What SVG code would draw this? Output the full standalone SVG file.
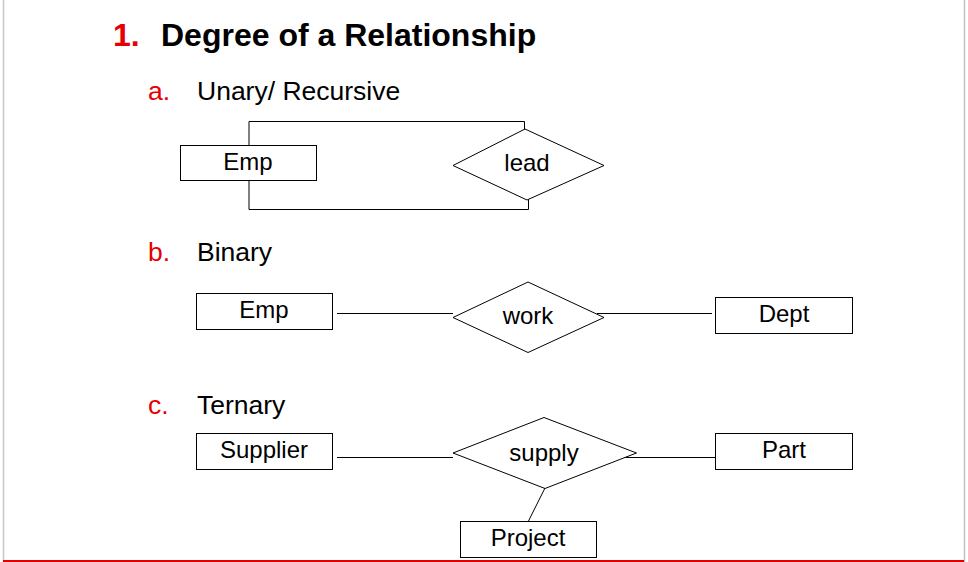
<svg xmlns="http://www.w3.org/2000/svg" width="968" height="562" viewBox="0 0 968 562">
<style>
.ent{fill:#fff;stroke:#000;stroke-width:1}
.rel{fill:#fff;stroke:#000;stroke-width:1}
.ln{fill:none;stroke:#000;stroke-width:1}
.lbl{font-family:"Liberation Sans",Arial,sans-serif;font-size:24px;fill:#000;text-anchor:middle}
.h{font-family:"Liberation Sans",Arial,sans-serif;fill:#000}
.red{fill:#e60000}
</style>
<rect x="0" y="0" width="968" height="562" fill="#fff"/>
<line x1="3.5" y1="0" x2="3.5" y2="562" stroke="#c8c8c8" stroke-width="1.5"/>
<line x1="964.5" y1="0" x2="964.5" y2="562" stroke="#c0c0c0" stroke-width="1.5"/>
<line x1="3" y1="561" x2="964" y2="561" stroke="#e00000" stroke-width="2"/>

<g id="title">
<text x="113" y="46" class="h red" font-size="32" font-weight="bold">1.</text>
<text x="161" y="46" class="h" font-size="32" font-weight="bold">Degree of a Relationship</text>
</g>
<g id="heading-a">
<text x="148" y="100" class="h red" font-size="26.5">a.</text>
<text x="197" y="100" class="h" font-size="26.5">Unary/ Recursive</text>
</g>
<g id="heading-b">
<text x="148" y="261" class="h red" font-size="26.5">b.</text>
<text x="197" y="261" class="h" font-size="26.5">Binary</text>
</g>
<g id="heading-c">
<text x="148" y="414" class="h red" font-size="26.5">c.</text>
<text x="197" y="414" class="h" font-size="26.5">Ternary</text>
</g>

<g id="connectors">
<polyline class="ln" points="249,145 249,121.5 524.5,121.5 524.5,138"/>
<polyline class="ln" points="249,181 249,209.5 528.5,209.5 528.5,198"/>
<line class="ln" x1="337" y1="313.5" x2="453" y2="313.5"/>
<line class="ln" x1="597" y1="313.5" x2="712" y2="313.5"/>
<line class="ln" x1="337" y1="457.5" x2="453" y2="457.5"/>
<line class="ln" x1="605" y1="457.5" x2="720" y2="457.5"/>
<line class="ln" x1="545" y1="488" x2="528.5" y2="521"/>
</g>

<g id="unary-emp">
<rect class="ent" x="180.5" y="145.5" width="136" height="35"/>
<text class="lbl" x="248" y="170">Emp</text>
</g>
<g id="unary-lead">
<polygon class="rel" points="453,165.5 525,129 604,165.5 527,200"/>
<text class="lbl" x="527" y="171">lead</text>
</g>

<g id="binary-emp">
<rect class="ent" x="196.5" y="293.5" width="136" height="36"/>
<text class="lbl" x="264" y="318">Emp</text>
</g>
<g id="binary-work">
<polygon class="rel" points="453,317.5 528,282 604,317.5 528,352.5"/>
<text class="lbl" x="528" y="324">work</text>
</g>
<g id="binary-dept">
<rect class="ent" x="715.5" y="297.5" width="137" height="36"/>
<text class="lbl" x="784" y="322">Dept</text>
</g>

<g id="ternary-supplier">
<rect class="ent" x="196.5" y="433.5" width="136" height="36"/>
<text class="lbl" x="264" y="458">Supplier</text>
</g>
<g id="ternary-supply">
<polygon class="rel" points="453,453 544,417.5 636.5,453 545,488.5"/>
<text class="lbl" x="544" y="461">supply</text>
</g>
<g id="ternary-part">
<rect class="ent" x="715.5" y="433.5" width="137" height="36"/>
<text class="lbl" x="784" y="458">Part</text>
</g>
<g id="ternary-project">
<rect class="ent" x="460.5" y="521.5" width="136" height="36"/>
<text class="lbl" x="528" y="546">Project</text>
</g>
</svg>
